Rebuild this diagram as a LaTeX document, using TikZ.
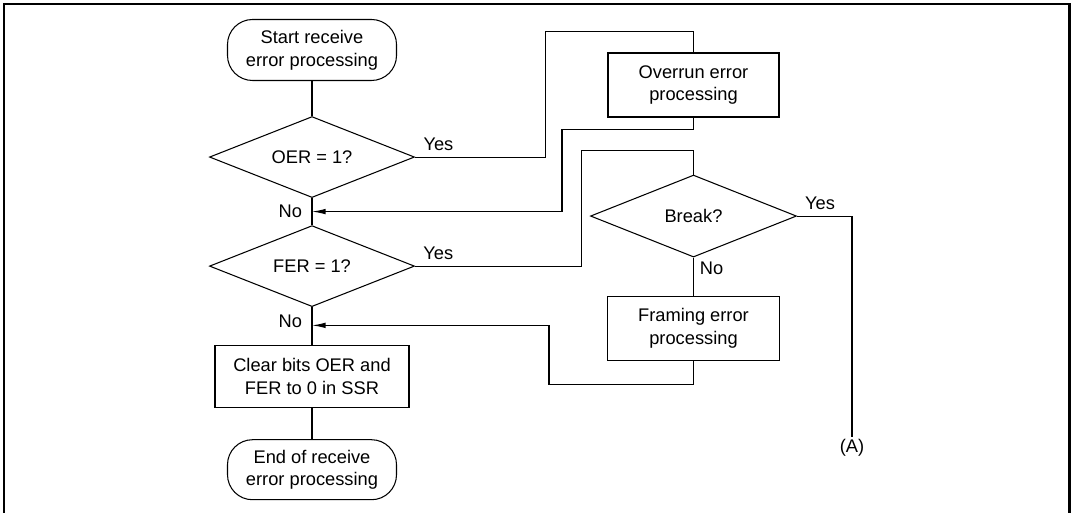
\documentclass[tikz,border=0pt]{standalone}
\usepackage{fontspec}
\setmainfont{Liberation Sans}
\usetikzlibrary{arrows.meta,positioning,shapes.geometric,calc}

\begin{document}
\begin{tikzpicture}[line width=0.6pt,font=\fontsize{10.4}{13}\selectfont,>={Latex[length=2.7mm,width=1.1mm]}]
\tikzstyle{term}=[draw,rounded corners=5mm,align=center,inner sep=2pt,minimum width=33.8mm,minimum height=12.2mm]
\tikzstyle{proc}=[draw,align=center,inner sep=2pt,minimum width=34.2mm,minimum height=12.8mm]
\tikzstyle{test}=[draw,diamond,shape aspect=2.5,align=center,inner sep=1pt,minimum width=41mm,minimum height=16.2mm]
\useasboundingbox (0,0) rectangle (21.48,-10.26);
\draw[line width=1.2pt] (0.08,-10.5) -- (0.08,-0.086) -- (21.39,-0.086) -- (21.39,-10.5);

\node[term] (start) at (6.24,-1.0) {Start receive\\error processing};
\node[test,below=7mm of start] (oer) {OER = 1?};
\node[test,below=5.4mm of oer] (fer) {FER = 1?};
\node[proc,below=7.6mm of fer,minimum width=38.8mm,minimum height=12.4mm] (clear) {Clear bits OER and\\FER to 0 in SSR};
\node[term,below=6.2mm of clear,minimum height=12mm] (end) {End of receive\\error processing};

\node[proc] (overrun) at (13.87,-1.70) {Overrun error\\processing};
\node[test,below=11.4mm of overrun,minimum width=41.2mm,minimum height=16.4mm] (brk) {Break?};
\node[proc,below=7.6mm of brk,minimum width=34.4mm] (frm) {Framing error\\processing};
\node[inner sep=1pt] (ptA) at (17.04,-8.96) {(A)};

\coordinate (in1) at ($(oer.south)!0.5!(fer.north)$);
\coordinate (in2) at ($(fer.south)!0.48!(clear.north)$);

\draw (start) -- (oer);
\draw (oer.south) -- node[left=2pt]{No} (fer.north);
\draw (fer.south) -- node[left=2pt,pos=0.38]{No} (clear.north);
\draw (clear) -- (end);

\draw (oer.east) -- node[above,pos=0.18]{Yes} ++(2.6,0) |- ([yshift=4.2mm]overrun.north) -- (overrun.north);
\draw[->] (overrun.south) -- ++(0,-0.24) -- ++(-2.63,0) |- (in1);
\draw (fer.east) -- node[above,pos=0.14]{Yes} ++(3.32,0) |- ([yshift=4.8mm]brk.north) -- (brk.north);
\draw (brk.east) -| node[above,pos=0.21]{Yes} (ptA.north);
\draw (brk.south) -- node[right,pos=0.28]{No} (frm.north);
\draw[->] (frm.south) -- ++(0,-0.48) -- ++(-2.89,0) |- (in2);
\end{tikzpicture}
\end{document}
